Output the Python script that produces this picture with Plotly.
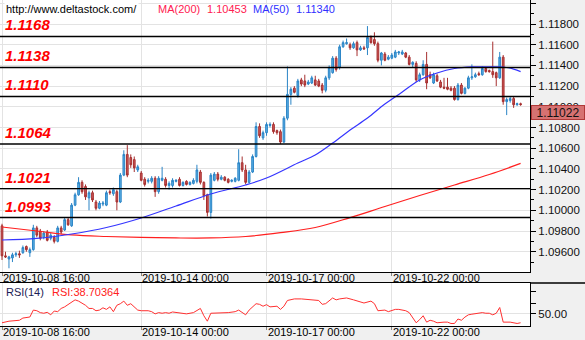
import plotly.graph_objects as go

# ---------------- data ----------------
opens = [1.0985,1.0956,1.0953,1.0954,1.0957,1.0958,1.0959,1.0965,1.0959,1.0962,
         1.0983,1.0980,1.0974,1.0979,1.0973,1.0974,1.0970,1.0983,1.0981,1.0991,
         1.0985,1.1005,1.1015,1.1027,1.1023,1.1012,1.1017,1.1008,1.1002,1.1006,
         1.1005,1.1018,1.1016,1.1018,1.1008,1.1034,1.1054,1.1051,1.1049,1.1039,
         1.1036,1.1030,1.1028,1.1028,1.1031,1.1018,1.1029,1.1030,1.1024,1.1024,
         1.1028,1.1030,1.1024,1.1028,1.1025,1.1026,1.1028,1.1037,1.1027,1.1015,
         1.0998,1.1029,1.1035,1.1030,1.1032,1.1030,1.1028,1.1028,1.1029,1.1046,
         1.1039,1.1027,1.1037,1.1052,1.1081,1.1070,1.1075,1.1082,1.1083,1.1077,
         1.1076,1.1066,1.1089,1.1112,1.1118,1.1111,1.1126,1.1125,1.1122,1.1123,
         1.1126,1.1125,1.1121,1.1116,1.1128,1.1133,1.1147,1.1138,1.1158,1.1161,
         1.1160,1.1157,1.1162,1.1155,1.1157,1.1157,1.1167,1.1165,1.1161,1.1145,
         1.1151,1.1146,1.1147,1.1148,1.1152,1.1151,1.1152,1.1148,1.1141,1.1142,
         1.1126,1.1131,1.1141,1.1131,1.1123,1.1130,1.1124,1.1119,1.1119,1.1118,
         1.1118,1.1107,1.1121,1.1113,1.1118,1.1128,1.1129,1.1132,1.1131,1.1137,
         1.1135,1.1134,1.1133,1.1128,1.1148,1.1105,1.1106,1.1108,1.1102,1.1103]
highs = [1.0987,1.0960,1.0956,1.0959,1.0960,1.0961,1.0966,1.0966,1.0964,1.0986,
         1.0985,1.0982,1.0980,1.0981,1.0978,1.0976,1.0985,1.0985,1.0993,1.0993,
         1.1007,1.1017,1.1032,1.1029,1.1025,1.1019,1.1019,1.1010,1.1009,1.1009,
         1.1019,1.1020,1.1022,1.1020,1.1036,1.1058,1.1063,1.1054,1.1052,1.1044,
         1.1038,1.1032,1.1031,1.1033,1.1033,1.1033,1.1042,1.1032,1.1028,1.1031,
         1.1030,1.1032,1.1028,1.1029,1.1028,1.1031,1.1044,1.1039,1.1028,1.1016,
         1.1036,1.1037,1.1037,1.1034,1.1033,1.1031,1.1030,1.1032,1.1059,1.1052,
         1.1044,1.1039,1.1054,1.1085,1.1084,1.1077,1.1085,1.1085,1.1085,1.1078,
         1.1078,1.1091,1.1139,1.1119,1.1120,1.1127,1.1128,1.1131,1.1126,1.1130,
         1.1130,1.1127,1.1123,1.1130,1.1140,1.1149,1.1149,1.1160,1.1164,1.1166,
         1.1162,1.1163,1.1164,1.1159,1.1159,1.1178,1.1169,1.1172,1.1163,1.1153,
         1.1153,1.1150,1.1152,1.1155,1.1154,1.1155,1.1153,1.1150,1.1144,1.1144,
         1.1133,1.1145,1.1153,1.1134,1.1133,1.1132,1.1126,1.1128,1.1128,1.1120,
         1.1120,1.1123,1.1123,1.1119,1.1130,1.1141,1.1133,1.1134,1.1139,1.1138,
         1.1136,1.1163,1.1134,1.1153,1.1150,1.1109,1.1110,1.1110,1.1104,1.1104]
lows = [1.0952,1.0954,1.0944,1.0950,1.0955,1.0954,1.0958,1.0960,1.0955,1.0961,
        1.0974,1.0971,1.0972,1.0970,1.0971,1.0968,1.0969,1.0977,1.0980,1.0985,
        1.0984,1.1004,1.1014,1.1016,1.1010,1.1000,1.1008,1.1000,1.1001,1.1004,
        1.1004,1.1015,1.1014,1.1000,1.1007,1.1033,1.1032,1.1041,1.1037,1.1037,
        1.1028,1.1023,1.1026,1.1026,1.1013,1.1016,1.1028,1.1022,1.1020,1.1022,
        1.1027,1.1023,1.1023,1.1024,1.1024,1.1025,1.1026,1.1025,1.1010,1.0994,
        1.0992,1.1028,1.1028,1.1029,1.1028,1.1026,1.1027,1.1027,1.1028,1.1037,
        1.1025,1.1026,1.1036,1.1051,1.1070,1.1068,1.1072,1.1080,1.1074,1.1073,
        1.1064,1.1065,1.1087,1.1102,1.1113,1.1109,1.1120,1.1119,1.1121,1.1122,
        1.1120,1.1119,1.1113,1.1114,1.1126,1.1132,1.1134,1.1136,1.1157,1.1160,
        1.1155,1.1156,1.1149,1.1154,1.1155,1.1150,1.1161,1.1159,1.1143,1.1140,
        1.1144,1.1145,1.1146,1.1147,1.1150,1.1150,1.1147,1.1140,1.1138,1.1124,
        1.1124,1.1130,1.1117,1.1127,1.1122,1.1124,1.1118,1.1117,1.1116,1.1115,
        1.1106,1.1106,1.1112,1.1112,1.1117,1.1126,1.1128,1.1130,1.1130,1.1133,
        1.1133,1.1128,1.1120,1.1127,1.1102,1.1092,1.1104,1.1099,1.1101,1.1101]
closes = [1.0956,1.0955,1.0955,1.0957,1.0958,1.0957,1.0964,1.0962,1.0962,1.0983,
          1.0976,1.0973,1.0978,1.0971,1.0976,1.0970,1.0983,1.0979,1.0991,1.0986,
          1.1005,1.1015,1.1027,1.1018,1.1013,1.1017,1.1010,1.1002,1.1007,1.1007,
          1.1017,1.1017,1.1020,1.1008,1.1034,1.1054,1.1034,1.1044,1.1041,1.1042,
          1.1029,1.1025,1.1029,1.1031,1.1018,1.1031,1.1031,1.1024,1.1026,1.1029,
          1.1029,1.1024,1.1027,1.1025,1.1027,1.1029,1.1039,1.1027,1.1014,1.0998,
          1.1034,1.1035,1.1030,1.1032,1.1029,1.1027,1.1029,1.1031,1.1046,1.1039,
          1.1027,1.1037,1.1052,1.1081,1.1072,1.1075,1.1083,1.1083,1.1076,1.1075,
          1.1066,1.1089,1.1112,1.1117,1.1114,1.1125,1.1122,1.1121,1.1124,1.1128,
          1.1121,1.1120,1.1116,1.1128,1.1138,1.1147,1.1136,1.1158,1.1162,1.1162,
          1.1157,1.1161,1.1155,1.1157,1.1156,1.1167,1.1162,1.1161,1.1145,1.1152,
          1.1145,1.1148,1.1150,1.1153,1.1153,1.1153,1.1148,1.1141,1.1143,1.1126,
          1.1131,1.1141,1.1123,1.1128,1.1131,1.1125,1.1119,1.1118,1.1117,1.1116,
          1.1107,1.1121,1.1113,1.1118,1.1128,1.1129,1.1131,1.1131,1.1137,1.1134,
          1.1134,1.1131,1.1128,1.1148,1.1105,1.1107,1.1108,1.1102,1.1103,1.11022]

ma200_idx = [0,10,20,30,40,50,60,70,80,90,100,110,120,130,140,149]
ma200 = [1.09839,1.09800,1.09762,1.09747,1.09738,1.09733,1.09733,1.09747,
         1.09784,1.09834,1.09929,1.10037,1.10143,1.10245,1.10346,1.10453]

ma50_idx = [0,10,20,30,40,50,60,70,76,85,90,95,100,105,110,115,120,125,130,135,140,145,149]
ma50 = [1.09713,1.09728,1.09771,1.09834,1.09926,1.10042,1.10158,1.10245,1.10312,
        1.10457,1.10535,1.10650,1.10776,1.10892,1.11027,1.11143,1.11259,1.11327,
        1.11370,1.11385,1.11385,1.11380,1.11340]

rsi_idx = [0,2,5,6,8,9,10,11,12,13,14,15,16,17,18,19,20,21,22,24,25,26,27,28,29,
           30,31,32,33,34,35,36,37,38,39,40,42,43,44,45,46,47,48,49,51,53,55,56,57,
           58,59,60,61,62,63,64,65,67,68,70,71,73,74,75,76,77,79,80,81,82,84,86,88,
           91,92,93,95,96,97,99,101,102,103,104,106,107,108,110,111,113,114,116,117,
           119,120,121,122,123,124,125,127,128,129,130,131,132,133,134,135,136,138,
           139,140,141,142,143,144,146,148,149]
rsi = [38.7,40.7,41.9,44.7,46.0,54.8,54.0,51.6,50.8,52.0,48.8,53.6,52.8,56.9,58.9,
       62.1,65.0,67.8,66.2,60.9,56.9,56.9,54.0,54.8,57.7,55.7,58.9,52.8,60.9,62.9,
       66.2,60.9,62.9,58.9,54.8,54.0,54.0,52.8,50.0,51.6,50.8,51.6,50.8,52.4,50.8,
       50.0,51.6,54.8,56.9,47.6,40.7,50.8,50.8,51.6,50.8,50.8,51.6,52.8,54.8,48.8,
       54.8,62.9,62.1,59.7,61.7,58.9,59.7,55.7,59.7,67.0,69.0,69.0,68.2,67.0,62.1,
       63.0,70.2,67.8,69.0,70.2,67.8,66.2,65.0,63.8,66.2,63.0,54.0,54.8,52.8,55.7,
       55.7,54.0,51.6,38.7,42.7,47.6,39.5,41.9,40.7,38.7,39.5,39.5,37.8,37.8,43.5,
       41.9,45.9,48.8,49.6,50.0,51.6,50.8,50.8,48.8,50.8,58.1,39.5,39.5,37.8,38.70364]

levels = [1.1168, 1.1138, 1.1110, 1.1064, 1.1021, 1.0993]
tick_idx = [0, 40, 76, 112]
tick_labels = ["2019-10-08 16:00", "2019-10-14 00:00", "2019-10-17 00:00", "2019-10-22 00:00"]

# ---------------- figure ----------------
W, H = 585, 340
XR = 530 / W                       # right edge of the plotting panels
FONT = "Liberation Sans"

def py(px):                        # pixel row -> paper coordinate
    return 1 - px / H

x = list(range(len(closes)))
fig = go.Figure()

fig.add_trace(go.Candlestick(
    x=x, open=opens, high=highs, low=lows, close=closes,
    increasing=dict(line=dict(color="#2a84c6", width=1), fillcolor="#5aafe4"),
    decreasing=dict(line=dict(color="#a62f2f", width=1), fillcolor="#cd5757"),
    whiskerwidth=0, showlegend=False, hoverinfo="skip", xaxis="x", yaxis="y"))
fig.add_trace(go.Scatter(x=ma200_idx, y=ma200, mode="lines", line_shape="spline",
                         line=dict(color="#ff1f1f", width=1.2), showlegend=False,
                         hoverinfo="skip", xaxis="x", yaxis="y"))
fig.add_trace(go.Scatter(x=ma50_idx, y=ma50, mode="lines", line_shape="spline",
                         line=dict(color="#3535ff", width=1.2), showlegend=False,
                         hoverinfo="skip", xaxis="x", yaxis="y"))
fig.add_trace(go.Scatter(x=rsi_idx, y=rsi, mode="lines",
                         line=dict(color="#ff3030", width=1), showlegend=False,
                         hoverinfo="skip", xaxis="x2", yaxis="y2"))

xrange = [-0.575, 151.7]
common_x = dict(range=xrange, tickvals=tick_idx, showticklabels=False,
                ticks="outside", ticklen=3, tickcolor="#888",
                showgrid=True, gridcolor="#e3e3e3", gridwidth=1,
                zeroline=False, showline=True, linecolor="#000", linewidth=1,
                automargin=False, fixedrange=True)

fig.update_layout(
    width=W, height=H, template="none",
    margin=dict(l=0, r=0, t=0, b=0),
    paper_bgcolor="#f0f0f0", plot_bgcolor="#ffffff",
    font=dict(family=FONT, size=11, color="#000"),
    showlegend=False,
    xaxis=dict(domain=[0, XR], anchor="y", rangeslider=dict(visible=False), **common_x),
    yaxis=dict(domain=[py(272), 1], anchor="x", side="right",
               range=[1.09404, 1.12032], tick0=1.096, dtick=0.002, tickformat=".5f",
               ticks="outside", ticklen=5, tickcolor="#000",
               minor=dict(dtick=0.001, ticks="outside", ticklen=3, tickcolor="#000",
                          showgrid=False),
               showgrid=True, gridcolor="#e3e3e3", zeroline=False,
               showline=True, linecolor="#000", linewidth=1,
               tickfont=dict(family=FONT, size=11.5, color="#111"), automargin=False,
               fixedrange=True),
    xaxis2=dict(domain=[0, XR], anchor="y2", mirror=True, **common_x),
    yaxis2=dict(domain=[py(326), py(283)], anchor="x2", side="right",
                range=[34.6, 89.2], tickvals=[50], ticktext=["50.00"],
                ticks="outside", ticklen=5, tickcolor="#000",
                minor=dict(tickvals=[63, 79], ticks="outside", ticklen=5,
                           tickcolor="#000", showgrid=False),
                showgrid=True, gridcolor="#e3e3e3", zeroline=False,
                showline=True, linecolor="#000", linewidth=1,
                tickfont=dict(family=FONT, size=11.5, color="#111"), automargin=False,
                fixedrange=True),
)

shapes = []
for lv in levels:
    shapes.append(dict(type="line", xref="x domain", x0=0, x1=1, yref="y", y0=lv, y1=lv,
                       line=dict(color="#000", width=1.4)))
shapes.append(dict(type="line", xref="paper", x0=XR, x1=1, yref="paper",
                   y0=py(283), y1=py(283), line=dict(color="#000", width=1.5)))
fig.update_layout(shapes=shapes)

ann = []
# date labels of both panels, left-aligned at their tick positions
for ti, tl in zip(tick_idx, tick_labels):
    for xr, row_y in (("x", 278), ("x2", 332)):
        ann.append(dict(xref=xr, x=ti, yref="paper", y=py(row_y), xanchor="left",
                        yanchor="middle", xshift=-1, showarrow=False, text=tl,
                        font=dict(family=FONT, size=11, color="#000")))

for lv in levels:
    ann.append(dict(xref="x domain", x=0.006, yref="y", y=lv, xanchor="left",
                    yanchor="bottom", yshift=1, showarrow=False,
                    text=f"<b><i>{lv:.4f}</i></b>",
                    font=dict(family=FONT, size=15, color="#ff0000")))

top_y = py(9)
ann.append(dict(xref="paper", x=4 / W, yref="paper", y=top_y, xanchor="left",
                yanchor="middle", showarrow=False, text="http://www.deltastock.com/",
                bgcolor="#ffffff", font=dict(family=FONT, size=11, color="#000")))
ann.append(dict(xref="paper", x=156 / W, yref="paper", y=top_y, xanchor="left",
                yanchor="middle", showarrow=False, text="MA(200)",
                font=dict(family=FONT, size=11, color="#ff2050")))
ann.append(dict(xref="paper", x=205 / W, yref="paper", y=top_y, xanchor="left",
                yanchor="middle", showarrow=False, text=f"{ma200[-1]:.5f}",
                font=dict(family=FONT, size=11, color="#ff2050")))
ann.append(dict(xref="paper", x=251 / W, yref="paper", y=top_y, xanchor="left",
                yanchor="middle", showarrow=False, text="MA(50)",
                font=dict(family=FONT, size=11, color="#3030ff")))
ann.append(dict(xref="paper", x=294 / W, yref="paper", y=top_y, xanchor="left",
                yanchor="middle", showarrow=False, text=f"{ma50[-1]:.5f}",
                font=dict(family=FONT, size=11, color="#3030ff")))

ann.append(dict(xref="paper", x=4 / W, yref="paper", y=py(292), xanchor="left",
                yanchor="middle", showarrow=False, text="RSI(14)",
                font=dict(family=FONT, size=11, color="#1c1c55")))
ann.append(dict(xref="paper", x=50 / W, yref="paper", y=py(292), xanchor="left",
                yanchor="middle", showarrow=False, text=f"RSI:{rsi[-1]:.5f}",
                font=dict(family=FONT, size=11, color="#ff2020")))

ann.append(dict(xref="paper", x=531 / W, yref="y", y=closes[-1], xanchor="left",
                yanchor="top", showarrow=False, text=f"{closes[-1]:.5f}",
                bgcolor="#d67272", bordercolor="#b03838", borderwidth=1,
                width=50, height=11, font=dict(family=FONT, size=12, color="#111")))
fig.update_layout(annotations=ann)

fig.write_html("out.html")
